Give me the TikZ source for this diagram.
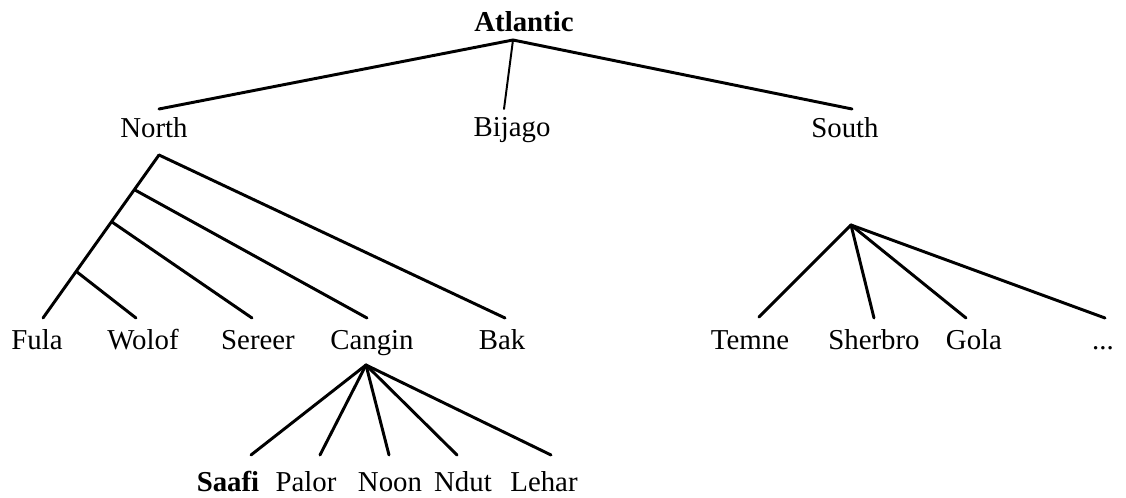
\documentclass[tikz,border=0pt]{standalone}
\usepackage{fontspec}
\setmainfont{Liberation Serif}
\usetikzlibrary{positioning}

\begin{document}
\begin{tikzpicture}[
  x=0.025cm, y=-0.025cm,
  lang/.style={anchor=base, inner sep=0pt, font=\fontsize{20.5}{24}\selectfont},
  group/.style={lang, font=\fontsize{20.5}{24}\selectfont\bfseries},
  branch/.style={line width=2.1pt, line cap=round}
]
\useasboundingbox (0,0) rectangle (1126,498);

% Top level
\node[group] (atlantic) at (524,32) {Atlantic};
\node[lang] (north) at (154,138) {North};
\node[lang] (bijago) at (512,137) {Bijago};
\node[lang] (south) at (845,138) {South};

% Leaves
\node[lang] (fula) at (37,350) {Fula};
\node[lang] (wolof) at (143,350) {Wolof};
\node[lang] (sereer) at (258,350) {Sereer};
\node[lang] (cangin) at (372,350) {Cangin};
\node[lang] (bak) at (502,350) {Bak};
\node[lang] (temne) at (750,350) {Temne};
\node[lang] (sherbro) at (874,350) {Sherbro};
\node[lang] (gola) at (974,350) {Gola};
\node[lang] (more) at (1103,350) {...};

% Cangin languages
\node[group] (saafi) at (228,491) {Saafi};
\node[lang] (palor) at (306,491) {Palor};
\node[lang] (noon) at (390,491) {Noon};
\node[lang] (ndut) at (463,491) {Ndut};
\node[lang] (lehar) at (544,491) {Lehar};

% Branch points
\coordinate (root) at (513,40);
\coordinate (north-up) at (159,109);
\coordinate (bijago-up) at (504,109);
\coordinate (south-up) at (852,109);
\coordinate (north-fork) at (159,155);
\coordinate (n1) at (135,190);
\coordinate (n2) at (112,222);
\coordinate (n3) at (77,272);
\coordinate (fula-up) at (43,318);
\coordinate (wolof-up) at (136,318);
\coordinate (sereer-up) at (252,318);
\coordinate (cangin-up) at (367,318);
\coordinate (bak-up) at (505,318);
\coordinate (south-fork) at (851,225);
\coordinate (temne-up) at (759,317);
\coordinate (sherbro-up) at (874,318);
\coordinate (gola-up) at (966,318);
\coordinate (more-up) at (1105,318);
\coordinate (cangin-fork) at (366,365);
\coordinate (saafi-up) at (251,455);
\coordinate (palor-up) at (320,455);
\coordinate (noon-up) at (389,455);
\coordinate (ndut-up) at (457,455);
\coordinate (lehar-up) at (551,455);

% Connections
\draw[branch] (root) -- (north-up);
\draw[branch, line width=1.4pt] (root) -- (bijago-up);
\draw[branch] (root) -- (south-up);

\draw[branch] (north-fork) -- (fula-up);
\draw[branch] (n3) -- (wolof-up);
\draw[branch] (n2) -- (sereer-up);
\draw[branch] (n1) -- (cangin-up);
\draw[branch] (north-fork) -- (bak-up);

\draw[branch] (south-fork) -- (temne-up);
\draw[branch] (south-fork) -- (sherbro-up);
\draw[branch] (south-fork) -- (gola-up);
\draw[branch] (south-fork) -- (more-up);

\draw[branch] (cangin-fork) -- (saafi-up);
\draw[branch] (cangin-fork) -- (palor-up);
\draw[branch] (cangin-fork) -- (noon-up);
\draw[branch] (cangin-fork) -- (ndut-up);
\draw[branch] (cangin-fork) -- (lehar-up);

\end{tikzpicture}
\end{document}
